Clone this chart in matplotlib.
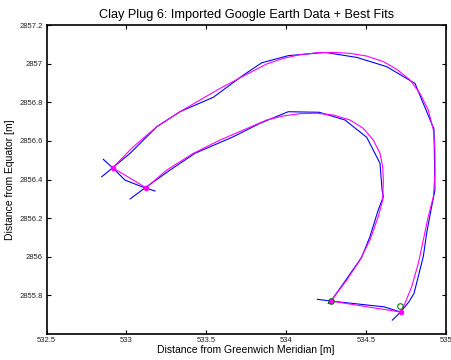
import matplotlib
matplotlib.use("Agg")
import matplotlib.pyplot as plt

plt.rcParams['font.family'] = ['Liberation Sans', 'DejaVu Sans']

# Blue: imported Google Earth traces
blue_outer_x = [532.845, 532.914, 533.023, 533.190, 533.335, 533.544, 533.732, 533.847, 534.013,
                534.243, 534.441, 534.629, 534.806, 534.925, 534.931, 534.910, 534.879, 534.858,
                534.800, 534.768, 534.717, 534.664]
blue_outer_y = [2856.414, 2856.461, 2856.536, 2856.674, 2856.752, 2856.827, 2856.942, 2857.006, 2857.043,
                2857.060, 2857.034, 2856.986, 2856.899, 2856.661, 2856.345, 2856.259, 2856.121, 2856.000,
                2855.809, 2855.765, 2855.713, 2855.670]
blue_inner_x = [533.023, 533.127, 533.273, 533.429, 533.669, 533.836, 534.013, 534.207, 534.368,
                534.504, 534.587, 534.600, 534.608, 534.576, 534.524, 534.472, 534.337, 534.280, 534.263]
blue_inner_y = [2856.299, 2856.363, 2856.449, 2856.536, 2856.622, 2856.692, 2856.752, 2856.749, 2856.709,
                2856.619, 2856.484, 2856.345, 2856.311, 2856.242, 2856.103, 2855.996, 2855.835, 2855.769, 2855.757]
blue_capL_x = [532.855, 532.914, 532.991, 533.096, 533.123, 533.179]
blue_capL_y = [2856.505, 2856.461, 2856.397, 2856.363, 2856.356, 2856.340]
blue_capB_x = [534.195, 534.280, 534.612, 534.717]
blue_capB_y = [2855.778, 2855.769, 2855.739, 2855.712]

# Magenta: best fits
fit_outer_x = [532.914, 533.043, 533.190, 533.335, 533.461, 533.586, 533.732, 533.878, 533.982,
               534.086, 534.191, 534.295, 534.399, 534.504, 534.608, 534.692, 534.775, 534.837,
               534.889, 534.921, 534.931, 534.931, 534.921, 534.889, 534.858, 534.827, 534.785,
               534.743, 534.717]
fit_outer_y = [2856.461, 2856.570, 2856.674, 2856.752, 2856.813, 2856.873, 2856.937, 2857.000, 2857.029,
               2857.048, 2857.058, 2857.060, 2857.055, 2857.041, 2857.012, 2856.972, 2856.917, 2856.847,
               2856.761, 2856.657, 2856.553, 2856.432, 2856.311, 2856.207, 2856.086, 2855.965, 2855.843,
               2855.757, 2855.712]
fit_inner_x = [533.123, 533.252, 533.419, 533.586, 533.732, 533.878, 533.982, 534.086, 534.191,
               534.295, 534.399, 534.482, 534.545, 534.587, 534.604, 534.608, 534.604, 534.576,
               534.524, 534.462, 534.379, 534.280]
fit_inner_y = [2856.357, 2856.449, 2856.536, 2856.605, 2856.657, 2856.709, 2856.730, 2856.742, 2856.744,
               2856.735, 2856.709, 2856.666, 2856.605, 2856.536, 2856.466, 2856.397, 2856.293, 2856.207,
               2856.086, 2855.982, 2855.878, 2855.769]
corner_x = [532.914, 533.123, 534.280, 534.717]
corner_y = [2856.461, 2856.357, 2855.769, 2855.712]
green_x = [534.280, 534.715]
green_y = [2855.769, 2855.745]

xticks = [532.5, 533, 533.5, 534, 534.5, 535]
xticklabels = ['532.5', '533', '533.5', '534', '534.5', '535']
yticks = [2855.8, 2856, 2856.2, 2856.4, 2856.6, 2856.8, 2857, 2857.2]
yticklabels = ['2855.8', '2856', '2856.2', '2856.4', '2856.6', '2856.8', '2857', '2857.2']

fig = plt.figure(figsize=(4.52, 3.6), dpi=100)
ax = fig.add_axes([0.1029, 0.0733, 0.8838, 0.8561])

lw = 0.8
for bx, by in [(blue_outer_x, blue_outer_y), (blue_inner_x, blue_inner_y),
               (blue_capL_x, blue_capL_y), (blue_capB_x, blue_capB_y)]:
    ax.plot(bx, by, color='#0000ff', lw=lw)

ax.plot(fit_outer_x, fit_outer_y, color='#ff00ff', lw=lw)
ax.plot(fit_inner_x, fit_inner_y, color='#ff00ff', lw=lw)
ax.plot(corner_x[0:2], corner_y[0:2], color='#ff00ff', lw=lw)
ax.plot(corner_x[2:4], corner_y[2:4], color='#ff00ff', lw=lw)
ax.plot(corner_x, corner_y, 'o', color='#ff00ff', ms=3, mec='#ff00ff', ls='none')
ax.plot(green_x, green_y, 'o', mfc='none', mec='#008000', ms=4, mew=0.8, ls='none')

ax.set_xlim(532.5, 535)
ax.set_ylim(2855.6, 2857.2)
ax.set_xticks(xticks)
ax.set_xticklabels(xticklabels)
ax.set_yticks(yticks)
ax.set_yticklabels(yticklabels)
ax.tick_params(direction='in', length=3.1, width=0.8, labelsize=5.5, pad=2.5,
               top=True, right=True, colors='black', labelcolor='#222222')
for s in ax.spines.values():
    s.set_linewidth(1.2)

ax.set_title('Clay Plug 6: Imported Google Earth Data + Best Fits', fontsize=9.2, pad=5.5)
ax.set_xlabel('Distance from Greenwich Meridian [m]', fontsize=7.5, labelpad=1)
ax.set_ylabel('Distance from Equator [m]', fontsize=7.5, labelpad=3)

fig.savefig('out.png', dpi=100)
